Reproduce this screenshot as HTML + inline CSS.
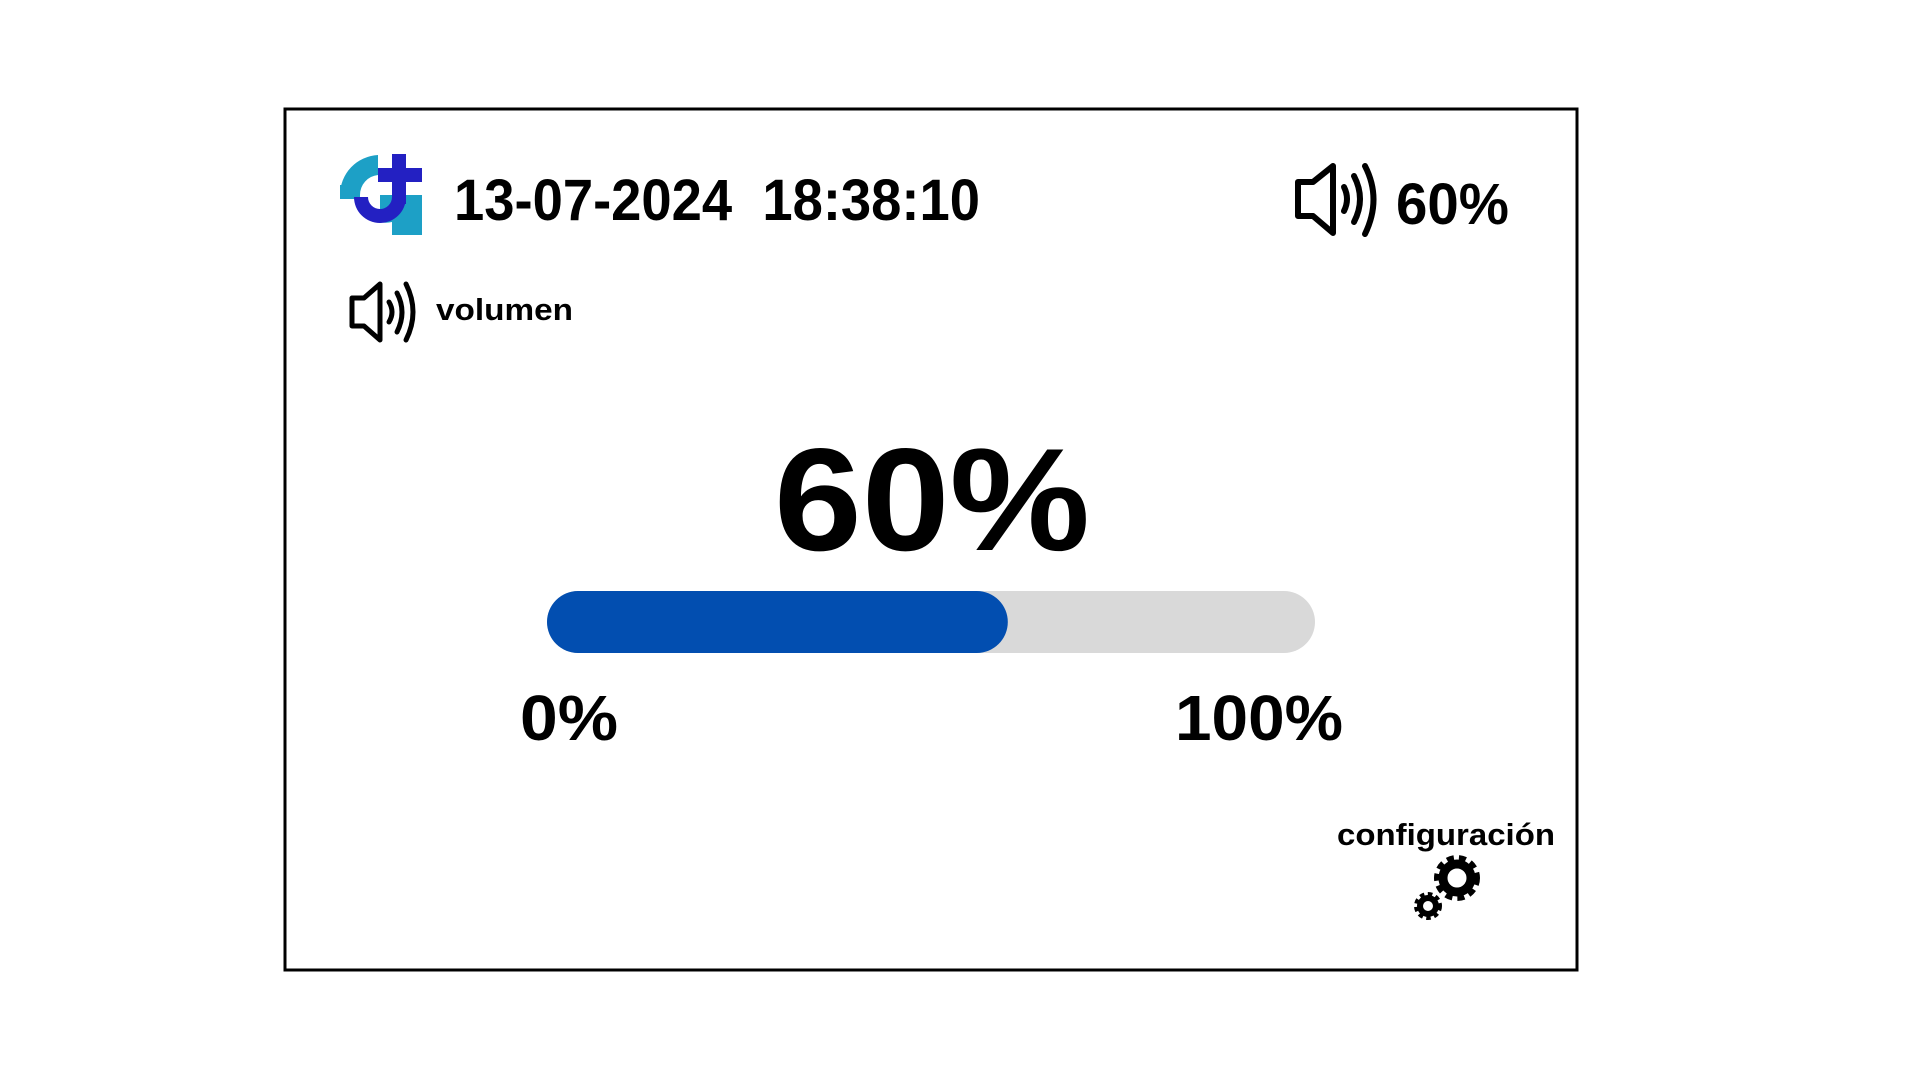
<!DOCTYPE html>
<html><head><meta charset="utf-8"><style>
html,body{margin:0;padding:0;background:#fff;width:1920px;height:1080px;overflow:hidden}
svg{display:block}
text{font-family:"Liberation Sans",sans-serif;font-weight:bold;fill:#000}
</style></head><body>
<svg id="s" width="1920" height="1080" viewBox="0 0 1920 1080">
<rect x="285" y="109" width="1292" height="861" fill="none" stroke="#000" stroke-width="3"/>
<g>
<path d="M378 155 A40 40 0 0 0 340 195 L360 195 A20 20 0 0 1 378 175 Z" fill="#1DA0C6"/>
<rect x="340" y="185" width="20" height="14" fill="#1DA0C6"/>
<path d="M380 195 L422 195 L422 235 L392 235 L392 222 A26 26 0 0 1 380 222 Z" fill="#1DA0C6"/>
<rect x="392" y="154" width="14" height="50" fill="#2320C2"/>
<rect x="378" y="168" width="44" height="14" fill="#2320C2"/>
<path d="M354 197 L368 197 A12 12 0 0 0 392 197 L392 182 L406 182 L406 197 A26 26 0 0 1 354 197 Z" fill="#2320C2"/>
</g>
<text x="454" y="220" font-size="58" xml:space="preserve" style="white-space:pre" textLength="526" lengthAdjust="spacingAndGlyphs">13-07-2024  18:38:10</text>
<g fill="none" stroke="#000" stroke-width="6" stroke-linejoin="round" stroke-linecap="round">
<path d="M1298 182 L1313 182 L1333 166 L1333 233 L1313 216 L1298 216 Z"/>
<path d="M1344 187 Q1350 199 1344 211"/>
<path d="M1354 176 Q1366 199 1354 222"/>
<path d="M1365 166 Q1382 199 1365 234"/>
</g>
<text x="1396" y="224" font-size="58" textLength="113" lengthAdjust="spacingAndGlyphs">60%</text>
<g fill="none" stroke="#000" stroke-width="5" stroke-linejoin="round" stroke-linecap="round">
<path d="M352 298 L364 298 L380 284 L380 340 L364 326 L352 326 Z"/>
<path d="M389 302 Q395 312 389 322"/>
<path d="M397 293 Q407 312 397 332"/>
<path d="M406 284 Q420 312 406 340"/>
</g>
<text x="436" y="320" font-size="31" textLength="137" lengthAdjust="spacingAndGlyphs">volumen</text>
<text id="bigval" x="774" y="550" font-size="146" textLength="316" lengthAdjust="spacingAndGlyphs">60%</text>
<g id="bar"></g>
<text x="520" y="740" font-size="64" textLength="98" lengthAdjust="spacingAndGlyphs">0%</text>
<text x="1175" y="740" font-size="64" textLength="168" lengthAdjust="spacingAndGlyphs">100%</text>
<text x="1337" y="845" font-size="31" textLength="218" lengthAdjust="spacingAndGlyphs">configuración</text>
<g fill="none" stroke="#000">
<circle cx="1457" cy="878" r="14" stroke-width="9"/>
<circle cx="1457" cy="878" r="20" stroke-width="6" stroke-dasharray="7 5"/>
<circle cx="1428" cy="906" r="8" stroke-width="6"/>
<circle cx="1428" cy="906" r="12" stroke-width="4" stroke-dasharray="4.5 3.5"/>
</g>
</svg>
<script>
const volumeValue = [60];
const axisRange = [0, 100];
const g = document.getElementById('bar');
const NS = 'http://www.w3.org/2000/svg';
const x0 = 547, x1 = 1315, y = 591, h = 62;
function xScale(v){ return x0 + (v - axisRange[0]) / (axisRange[1] - axisRange[0]) * (x1 - x0); }
const track = document.createElementNS(NS, 'rect');
track.setAttribute('x', x0); track.setAttribute('y', y);
track.setAttribute('width', x1 - x0); track.setAttribute('height', h);
track.setAttribute('rx', h/2); track.setAttribute('fill', '#D9D9D9');


g.appendChild(track);
const fill = document.createElementNS(NS, 'rect');
fill.setAttribute('x', x0); fill.setAttribute('y', y);
fill.setAttribute('width', Math.max(h, xScale(volumeValue[0]) - x0)); fill.setAttribute('height', h);
fill.setAttribute('rx', h/2); fill.setAttribute('fill', '#024EB0');


g.appendChild(fill);
document.getElementById('bigval').textContent = volumeValue[0] + '%';
</script>
</body></html>
